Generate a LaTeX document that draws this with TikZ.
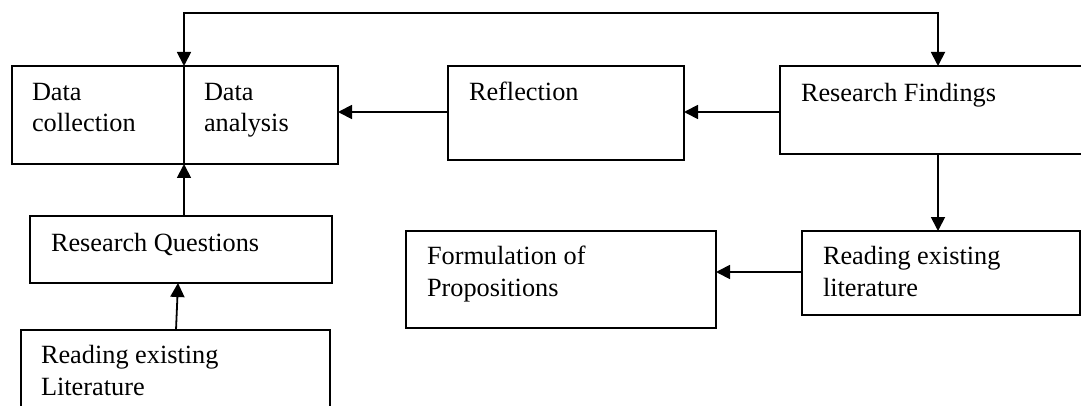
\documentclass[tikz,border=0pt]{standalone}
\usepackage{fontspec}
\setmainfont{Liberation Serif}
\usetikzlibrary{arrows.meta}
\tikzset{
  stagebox/.style={draw, line width=1.8pt, inner sep=0pt, outer sep=0pt},
  lbl/.style={anchor=base west, inner sep=0pt, outer sep=0pt, align=left,
              font=\fontsize{26.3}{31.5}\selectfont},
  tip/.tip={Triangle[length=14pt,width=14pt]},
  flow/.style={line width=1.8pt, -tip},
  both/.style={line width=1.8pt, tip-tip}
}
% a box given by its top-left and bottom-right corner (pixel units, y downwards)
\newcommand{\stage}[5]{%
  \node[stagebox, minimum width={(#4-#2)*1pt}, minimum height={(#5-#3)*1pt}]
    (#1) at ({(#2+#4)/2},{(#3+#5)/2}) {};}
\begin{document}
\begin{tikzpicture}[x=1pt, y=-1pt]
\fill[white] (0,0) rectangle (1081,406);
\useasboundingbox (0,0) rectangle (1081,406);
\clip (0,0) rectangle (1081,406);

% boxes
\stage{dcol}{12}{66}{184}{164}
\stage{dana}{184}{66}{338}{164}
\stage{refl}{448}{66}{684}{160}
\stage{find}{780}{66}{1095}{154}
\stage{rq}{30}{216}{332}{283}
\stage{litl}{21}{330}{330}{420}
\stage{form}{406}{231}{716}{328}
\stage{litr}{802}{231}{1080}{315}

% labels (multi-line labels sit on the baseline of their last line)
\node[lbl] (tdcol) at (32,132)  {Data\\collection};
\node[lbl] (tdana) at (204,132) {Data\\analysis};
\node[lbl] (trefl) at (469,101) {Reflection};
\node[lbl] (tfind) at (801,102) {Research Findings};
\node[lbl] (trq)   at (51,251)  {Research Questions};
\node[lbl] (tlitl) at (41,395)  {Reading existing\\Literature};
\node[lbl] (tform) at (427,296) {Formulation of\\Propositions};
\node[lbl] (tlitr) at (823,296) {Reading existing\\literature};

% connectors
\coordinate (topl) at (dana.north west |- 0,13);
\coordinate (topr) at (938,13);
\draw[both] (dana.north west) -- (topl) -- (topr) -- (topr |- find.north);
\draw[flow] (refl.west |- 0,112) -- (dana.east |- 0,112);
\draw[flow] (find.west |- 0,112) -- (refl.east |- 0,112);
\draw[flow] (topr |- find.south) -- (topr |- litr.north);
\draw[flow] (litr.west |- 0,272) -- (form.east |- 0,272);
\draw[flow] (rq.north -| dana.south west) -- (dana.south west);
\draw[flow] (litl.north -| 176,0) -- (rq.south -| 178,0);
\end{tikzpicture}
\end{document}
